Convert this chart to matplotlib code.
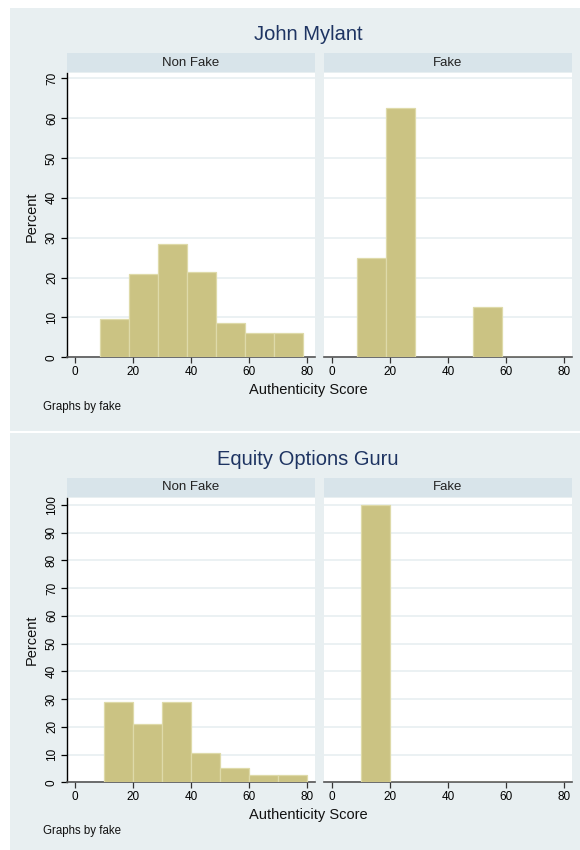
"""
Authenticity score histograms for two accounts, split by the fake flag.
"""

import matplotlib
matplotlib.use("Agg")
import matplotlib.pyplot as plt
from matplotlib.patches import Rectangle

plt.rcParams["font.family"] = ["Liberation Sans", "DejaVu Sans"]

# Histogram data (percent per bin of width 10)
bin_width = 10
john_bin_start = 8.7
john_non_fake = [9.7, 20.9, 28.3, 21.4, 8.6, 6.0, 6.0]
john_fake = [25.0, 62.5, 0, 0, 12.5, 0, 0]

guru_bin_start = 10
guru_non_fake = [28.95, 21.05, 28.95, 10.53, 5.26, 2.63, 2.63]
guru_fake = [100.0, 0, 0, 0, 0, 0, 0]

titles = ["John Mylant", "Equity Options Guru"]
panel_labels = ["Non Fake", "Fake"]
x_ticks = [0, 20, 40, 60, 80]
john_y_ticks = list(range(0, 80, 10))
guru_y_ticks = list(range(0, 110, 10))

# Colours
BG = "#e8eff1"
STRIP = "#d8e4ea"
GRID = "#e8eff1"
BAR = "#cbc383"
BAR_EDGE = "#dedaa9"
TITLE = "#1e3462"

W, H = 580, 850
fig = plt.figure(figsize=(W / 100, H / 100), dpi=100)


def px_box(x0, y0, x1, y1):
    """Convert a pixel box (top-left origin) into figure fractions."""
    return [x0 / W, 1 - y1 / H, (x1 - x0) / W, (y1 - y0) / H]


def add_background(y0, y1):
    x0, y, w, h = px_box(10, y0, W, y1)
    fig.add_artist(Rectangle((x0, y), w, h, transform=fig.transFigure,
                             facecolor=BG, edgecolor="none", zorder=0))


def draw_panel(x0, x1, strip_top, plot_top, plot_bottom, start, values,
               y_ticks, y_max, label, show_y):
    # strip with the panel label
    strip = fig.add_axes(px_box(x0, strip_top, x1, plot_top - 1))
    strip.set_facecolor(STRIP)
    strip.set_xticks([])
    strip.set_yticks([])
    for s in strip.spines.values():
        s.set_visible(False)
    strip.text(0.5, 0.5, label, ha="center", va="center", fontsize=9.5,
               color="#222222", transform=strip.transAxes)

    ax = fig.add_axes(px_box(x0, plot_top, x1, plot_bottom))
    ax.set_facecolor("white")
    lefts = [start + i * bin_width for i in range(len(values))]
    ax.bar(lefts, values, width=bin_width, align="edge", color=BAR,
           edgecolor=BAR_EDGE, linewidth=0.9, zorder=3)
    ax.set_xlim(-2.8, 82.9)
    ax.set_ylim(0, y_max)
    ax.set_xticks(x_ticks)
    ax.set_yticks(y_ticks)
    ax.grid(axis="y", color=GRID, linewidth=1.2, zorder=1)
    ax.grid(axis="x", visible=False)

    for side in ["top", "right"]:
        ax.spines[side].set_visible(False)
    ax.spines["bottom"].set_color("#555555")
    ax.spines["bottom"].set_linewidth(1.2)
    ax.tick_params(axis="x", direction="out", length=4.5, width=0.9,
                   color="#333333", labelsize=8.5, pad=2)
    if show_y:
        ax.spines["left"].set_color("black")
        ax.spines["left"].set_linewidth(1.0)
        ax.tick_params(axis="y", direction="out", length=4.5, width=0.9,
                       labelsize=8.5, pad=2)
        for t in ax.get_yticklabels():
            t.set_rotation(90)
            t.set_va("center")
    else:
        ax.spines["left"].set_visible(False)
        ax.tick_params(axis="y", length=0, labelleft=False)
    return ax


def draw_graph(title, top, start, non_fake, fake, y_ticks, y_max, layout):
    strip_top, plot_top, plot_bottom, title_y, label_y, note_y, percent_y = layout
    draw_panel(67, 315, strip_top, plot_top, plot_bottom, start, non_fake,
               y_ticks, y_max, panel_labels[0], True)
    draw_panel(324, 572, strip_top, plot_top, plot_bottom, start, fake,
               y_ticks, y_max, panel_labels[1], False)

    fig.text(308 / W, 1 - title_y / H, title, ha="center", va="center",
             fontsize=14.5, color=TITLE)
    fig.text(308 / W, 1 - label_y / H, "Authenticity Score", ha="center",
             va="center", fontsize=10.5, color="#111111")
    fig.text(32 / W, 1 - percent_y / H, "Percent", ha="center", va="center",
             rotation=90, fontsize=10.5, color="#111111")
    fig.text(43 / W, 1 - note_y / H, "Graphs by fake", ha="left",
             va="center", fontsize=8.3, color="#111111")


add_background(8, 431)
add_background(433, 850)

draw_graph(titles[0], 8, john_bin_start, john_non_fake, john_fake,
           john_y_ticks, 71.4, (53.3, 72.7, 357.3, 35, 390, 407, 217))
draw_graph(titles[1], 433, guru_bin_start, guru_non_fake, guru_fake,
           guru_y_ticks, 102.6, (478.3, 497.7, 782.3, 460, 815, 831, 640))

fig.savefig("out.png", dpi=100, facecolor="white")
